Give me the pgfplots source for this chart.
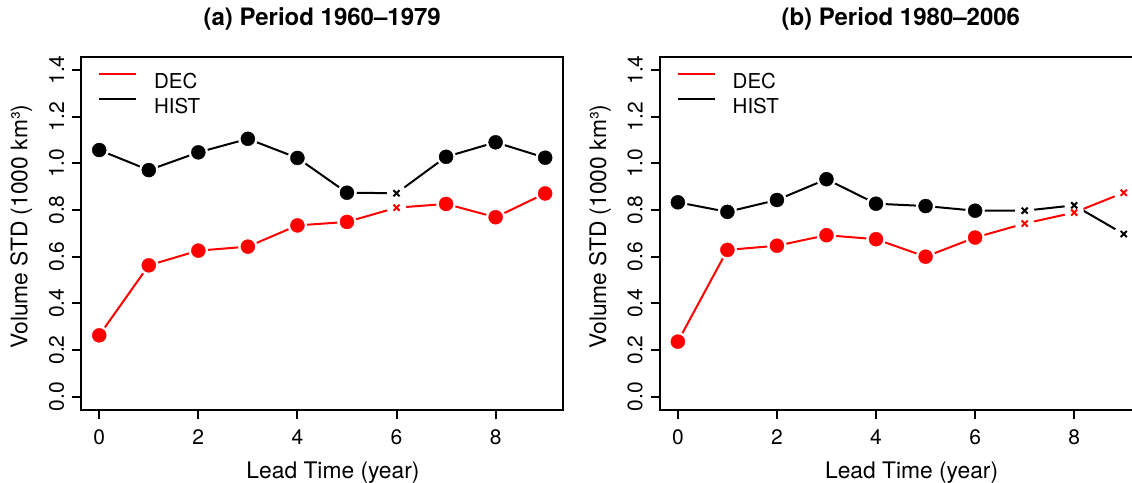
\documentclass[border=0pt]{standalone}
\usepackage{fontspec}
\setmainfont{TeX Gyre Heros}
\usepackage{pgfplots}
\usepackage{pgfplotstable}
\pgfplotsset{compat=1.18}

\pgfplotstableread{
x dec hist m
0 0.263 1.057 1
1 0.563 0.971 1
2 0.626 1.047 1
3 0.643 1.105 1
4 0.734 1.023 1
5 0.749 0.874 1
6 0.810 0.872 0
7 0.826 1.028 1
8 0.769 1.090 1
9 0.871 1.024 1
}\tabA

\pgfplotstableread{
x dec hist m
0 0.236 0.833 1
1 0.629 0.792 1
2 0.647 0.843 1
3 0.692 0.932 1
4 0.675 0.827 1
5 0.600 0.817 1
6 0.682 0.797 1
7 0.742 0.797 0
8 0.789 0.820 0
9 0.874 0.697 0
}\tabB

\pgfplotsset{
  panel/.style={
    scale only axis, width=481.6pt, height=352.9pt,
    anchor=south west,
    xmin=-0.36, xmax=9.36, ymin=-0.056, ymax=1.456,
    xtick={0,2,4,6,8}, ytick={0,0.2,0.4,0.6,0.8,1.0,1.2,1.4},
    xtick pos=lower, ytick pos=left,
    tick align=outside, major tick length=9.5pt,
    axis line style={line width=2pt},
    every tick/.style={black, line width=2pt},
    font=\fontsize{21}{25}\selectfont,
    /pgf/number format/assume math mode=true,
    yticklabel style={rotate=90, anchor=south, inner sep=0pt,
      /pgf/number format/.cd, fixed, fixed zerofill, precision=1},
    xticklabel style={anchor=north, inner sep=0pt},
    xticklabel shift=10.5pt, yticklabel shift=7.6pt,
    xlabel={Lead Time (year)},
    ylabel={Volume STD (1000 km³)},
    every axis x label/.style={at={(axis description cs:0.5224,-0.1777)}, anchor=center, font=\fontsize{22.8}{27}\selectfont},
    every axis y label/.style={at={(axis description cs:-0.1246,0.5188)}, anchor=center, rotate=90, font=\fontsize{22.8}{27}\selectfont},
    title style={at={(axis description cs:0.5,1.0907)}, anchor=center, font=\fontsize{24}{28}\selectfont\bfseries},
    reverse legend,
    legend style={draw=none, fill=none, inner sep=0pt, outer sep=0pt,
      at={(axis description cs:0.0353,0.9538)}, anchor=north west,
      row sep=7.5pt, column sep=16.7pt, font=\fontsize{20.5}{24}\selectfont,
      nodes={inner sep=0pt, outer sep=0pt}},
    legend cell align=left,
    legend image code/.code={\draw[#1, line width=2pt] (0pt,7.5pt) -- (37pt,7.5pt);},
  },
  gapmark/.style={forget plot, only marks, mark=*, mark size=9.5pt, white},
  dotmark/.style={forget plot, only marks, mark=*, mark size=7pt, #1, restrict expr to domain={\thisrow{m}}{1:1}},
  crossmark/.style={forget plot, only marks, mark=x, mark size=4.3pt, #1, mark options={line width=2pt}, restrict expr to domain={\thisrow{m}}{0:0}},
}

\begin{document}
\begin{tikzpicture}[x=1pt,y=1pt]
\begin{axis}[panel, at={(81.4pt,72.2pt)}, title={(a) Period 1960--1979}]
  \addplot[black, line width=2pt] table[x=x,y=hist]{\tabA};
  \addlegendentry{HIST}
  \addplot[gapmark] table[x=x,y=hist]{\tabA};
  \addplot[red, line width=2pt] table[x=x,y=dec]{\tabA};
  \addlegendentry{DEC}
  \addplot[gapmark] table[x=x,y=dec]{\tabA};
  \addplot[dotmark=black] table[x=x,y=hist]{\tabA};
  \addplot[crossmark=black] table[x=x,y=hist]{\tabA};
  \addplot[dotmark=red] table[x=x,y=dec]{\tabA};
  \addplot[crossmark=red] table[x=x,y=dec]{\tabA};
\end{axis}
\begin{axis}[panel, at={(660pt,72.2pt)}, title={(b) Period 1980--2006}]
  \addplot[black, line width=2pt] table[x=x,y=hist]{\tabB};
  \addlegendentry{HIST}
  \addplot[gapmark] table[x=x,y=hist]{\tabB};
  \addplot[red, line width=2pt] table[x=x,y=dec]{\tabB};
  \addlegendentry{DEC}
  \addplot[gapmark] table[x=x,y=dec]{\tabB};
  \addplot[dotmark=black] table[x=x,y=hist]{\tabB};
  \addplot[crossmark=black] table[x=x,y=hist]{\tabB};
  \addplot[dotmark=red] table[x=x,y=dec]{\tabB};
  \addplot[crossmark=red] table[x=x,y=dec]{\tabB};
\end{axis}
\pgfresetboundingbox
\path[use as bounding box] (0,0) rectangle (1132pt,482pt);
\end{tikzpicture}
\end{document}
